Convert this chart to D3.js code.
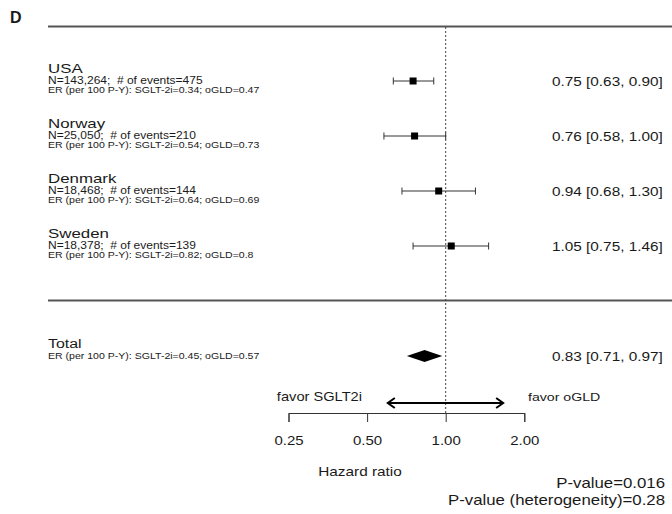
<!DOCTYPE html>
<html>
<head>
<meta charset="utf-8">
<script src="https://cdn.jsdelivr.net/npm/d3@7"></script>
<style>
  body { margin: 0; background: #fff; }
  svg text { font-family: "Liberation Sans", Arial, sans-serif; fill: #1a1a1a; }
</style>
</head>
<body>
<div id="forest"></div>
<script>
// study level data
var studies = ["USA", "Norway", "Denmark", "Sweden"];
var nPatients = ["143,264", "25,050", "18,468", "18,378"];
var nEvents = [475, 210, 144, 139];
var erSglt = ["0.34", "0.54", "0.64", "0.82"];
var erOgld = ["0.47", "0.73", "0.69", "0.8"];
var hr = [0.75, 0.76, 0.94, 1.05];
var lower = [0.63, 0.58, 0.68, 0.75];
var upper = [0.90, 1.00, 1.30, 1.46];

// pooled estimate
var totalHr = [0.83, 0.71, 0.97]; // estimate, lower, upper
var totalEr = ["0.45", "0.57"];

var tickValues = [0.25, 0.5, 1, 2];
var arrowExtent = [0.6, 1.66];
var pValues = ["P-value=0.016", "P-value (heterogeneity)=0.28"];

var width = 672, height = 514;
var leftX = 48;
var sx = 1.2; // the original figure text is a bit wider than tall

var svg = d3.select("#forest")
    .append("svg")
    .attr("width", width)
    .attr("height", height);

// moves x/y into a transform so the glyphs can be widened
function widen(sel, k) {
    sel.each(function () {
        var t = d3.select(this);
        var tx = +t.attr("x") || 0, ty = +t.attr("y") || 0;
        t.attr("transform", "translate(" + tx + "," + ty + ") scale(" + (k || sx) + ",1)")
            .attr("x", 0).attr("y", 0);
    });
}

// log scale for hazard ratio
var x = d3.scaleLog()
    .domain([0.25, 2])
    .range([288.5, 524.3]);

var y = d3.scalePoint()
    .domain(studies)
    .range([81, 246]);

var fmt = d3.format(".2f");
var axisY = 413;
var totalY = 356;

// panel letter + top rule
svg.append("text")
    .attr("x", 10)
    .attr("y", 23)
    .attr("font-size", 16)
    .attr("font-weight", "bold")
    .text("D");

svg.append("line")
    .attr("x1", leftX).attr("x2", width)
    .attr("y1", 26.5).attr("y2", 26.5)
    .attr("stroke", "#555")
    .attr("stroke-width", 1.8);

// separator before total
svg.append("line")
    .attr("x1", leftX).attr("x2", width)
    .attr("y1", 300.5).attr("y2", 300.5)
    .attr("stroke", "#555")
    .attr("stroke-width", 1.8);

// null line
svg.append("line")
    .attr("x1", x(1)).attr("x2", x(1))
    .attr("y1", 27).attr("y2", axisY)
    .attr("stroke", "#444")
    .attr("stroke-width", 1)
    .attr("stroke-dasharray", "2,2");

// left labels
var rows = svg.append("g")
    .selectAll("g")
    .data(studies)
    .enter().append("g")
    .attr("transform", function (d) { return "translate(" + leftX + "," + y(d) + ")"; });

rows.append("text")
    .attr("y", -8.5)
    .attr("font-size", 13.5)
    .text(function (d) { return d; })
    .call(widen, 1.25);

rows.append("text")
    .attr("y", 3)
    .attr("font-size", 10)
    .text(function (d, i) { return "N=" + nPatients[i] + ";\u00a0\u00a0# of events=" + nEvents[i]; })
    .call(widen);

rows.append("text")
    .attr("y", 11.5)
    .attr("font-size", 8.8)
    .text(function (d, i) { return "ER (per 100 P-Y): SGLT-2i=" + erSglt[i] + "; oGLD=" + erOgld[i]; })
    .call(widen);

// CI lines
var ci = svg.append("g")
    .attr("stroke", "#333")
    .attr("stroke-width", 1);

ci.selectAll(".ci")
    .data(studies)
    .enter().append("line")
    .attr("x1", function (d, i) { return x(lower[i]); })
    .attr("x2", function (d, i) { return x(upper[i]); })
    .attr("y1", function (d) { return y(d); })
    .attr("y2", function (d) { return y(d); });

ci.selectAll(".capL")
    .data(studies)
    .enter().append("line")
    .attr("x1", function (d, i) { return x(lower[i]); })
    .attr("x2", function (d, i) { return x(lower[i]); })
    .attr("y1", function (d) { return y(d) - 3.5; })
    .attr("y2", function (d) { return y(d) + 3.5; });

ci.selectAll(".capR")
    .data(studies)
    .enter().append("line")
    .attr("x1", function (d, i) { return x(upper[i]); })
    .attr("x2", function (d, i) { return x(upper[i]); })
    .attr("y1", function (d) { return y(d) - 3.5; })
    .attr("y2", function (d) { return y(d) + 3.5; });

svg.append("g")
    .selectAll("rect")
    .data(studies)
    .enter().append("rect")
    .attr("x", function (d, i) { return x(hr[i]) - 3.5; })
    .attr("y", function (d) { return y(d) - 3.5; })
    .attr("width", 7)
    .attr("height", 7)
    .attr("fill", "#000");

// right labels
svg.append("g")
    .selectAll("text")
    .data(studies)
    .enter().append("text")
    .attr("x", 552)
    .attr("y", function (d) { return y(d); })
    .attr("dy", "0.35em")
    .attr("font-size", 13)
    .text(function (d, i) { return fmt(hr[i]) + " [" + fmt(lower[i]) + ", " + fmt(upper[i]) + "]"; })
    .call(widen, 1.18);

// total row
svg.append("text")
    .attr("x", leftX).attr("y", totalY - 8.5)
    .attr("font-size", 13.5)
    .text("Total")
    .call(widen, 1.18);

svg.append("text")
    .attr("x", leftX).attr("y", totalY + 3)
    .attr("font-size", 8.8)
    .text("ER (per 100 P-Y): SGLT-2i=" + totalEr[0] + "; oGLD=" + totalEr[1])
    .call(widen);

svg.append("path")
    .attr("d", "M" + x(totalHr[1]) + "," + totalY +
        "L" + x(totalHr[0]) + "," + (totalY - 6) +
        "L" + x(totalHr[2]) + "," + totalY +
        "L" + x(totalHr[0]) + "," + (totalY + 6) + "Z")
    .attr("fill", "#000");

svg.append("text")
    .attr("x", 552)
    .attr("y", totalY)
    .attr("dy", "0.35em")
    .attr("font-size", 13)
    .text(fmt(totalHr[0]) + " [" + fmt(totalHr[1]) + ", " + fmt(totalHr[2]) + "]")
    .call(widen, 1.18);

// axis
var xAxis = d3.axisBottom(x)
    .tickValues(tickValues)
    .tickFormat(fmt)
    .tickSize(9)
    .tickPadding(14);

var gx = svg.append("g")
    .attr("transform", "translate(0," + axisY + ")")
    .call(xAxis);
gx.selectAll("path, line").attr("stroke", "#333");
gx.selectAll("text")
    .attr("font-size", 12.5)
    .attr("fill", "#1a1a1a")
    .style("font-family", "'Liberation Sans', Arial, sans-serif")
    .call(widen);

svg.append("text")
    .attr("x", 360).attr("y", 472)
    .attr("dy", "0.35em")
    .attr("text-anchor", "middle")
    .attr("font-size", 12.8)
    .text("Hazard ratio")
    .call(widen);

// favor arrow
var arrowY = 403;
svg.append("line")
    .attr("x1", x(arrowExtent[0])).attr("x2", x(arrowExtent[1]))
    .attr("y1", arrowY).attr("y2", arrowY)
    .attr("stroke", "#000")
    .attr("stroke-width", 2);

svg.append("path")
    .attr("d", "M" + (x(arrowExtent[0]) + 7) + "," + (arrowY - 5) + "L" + x(arrowExtent[0]) + "," + arrowY + "L" + (x(arrowExtent[0]) + 7) + "," + (arrowY + 5) +
        "M" + (x(arrowExtent[1]) - 7) + "," + (arrowY - 5) + "L" + x(arrowExtent[1]) + "," + arrowY + "L" + (x(arrowExtent[1]) - 7) + "," + (arrowY + 5))
    .attr("fill", "none")
    .attr("stroke", "#000")
    .attr("stroke-width", 2);

svg.append("text")
    .attr("x", 362).attr("y", arrowY - 2)
    .attr("text-anchor", "end")
    .attr("font-size", 12.2)
    .text("favor SGLT2i")
    .call(widen);

svg.append("text")
    .attr("x", 528).attr("y", arrowY - 2)
    .attr("font-size", 11.8)
    .text("favor oGLD")
    .call(widen);

// p values
svg.append("g")
    .selectAll("text")
    .data(pValues)
    .enter().append("text")
    .attr("x", 665)
    .attr("y", function (d, i) { return 483 + i * 17; })
    .attr("dy", "0.35em")
    .attr("text-anchor", "end")
    .attr("font-size", 14)
    .text(function (d) { return d; })
    .call(widen);
</script>
</body>
</html>
